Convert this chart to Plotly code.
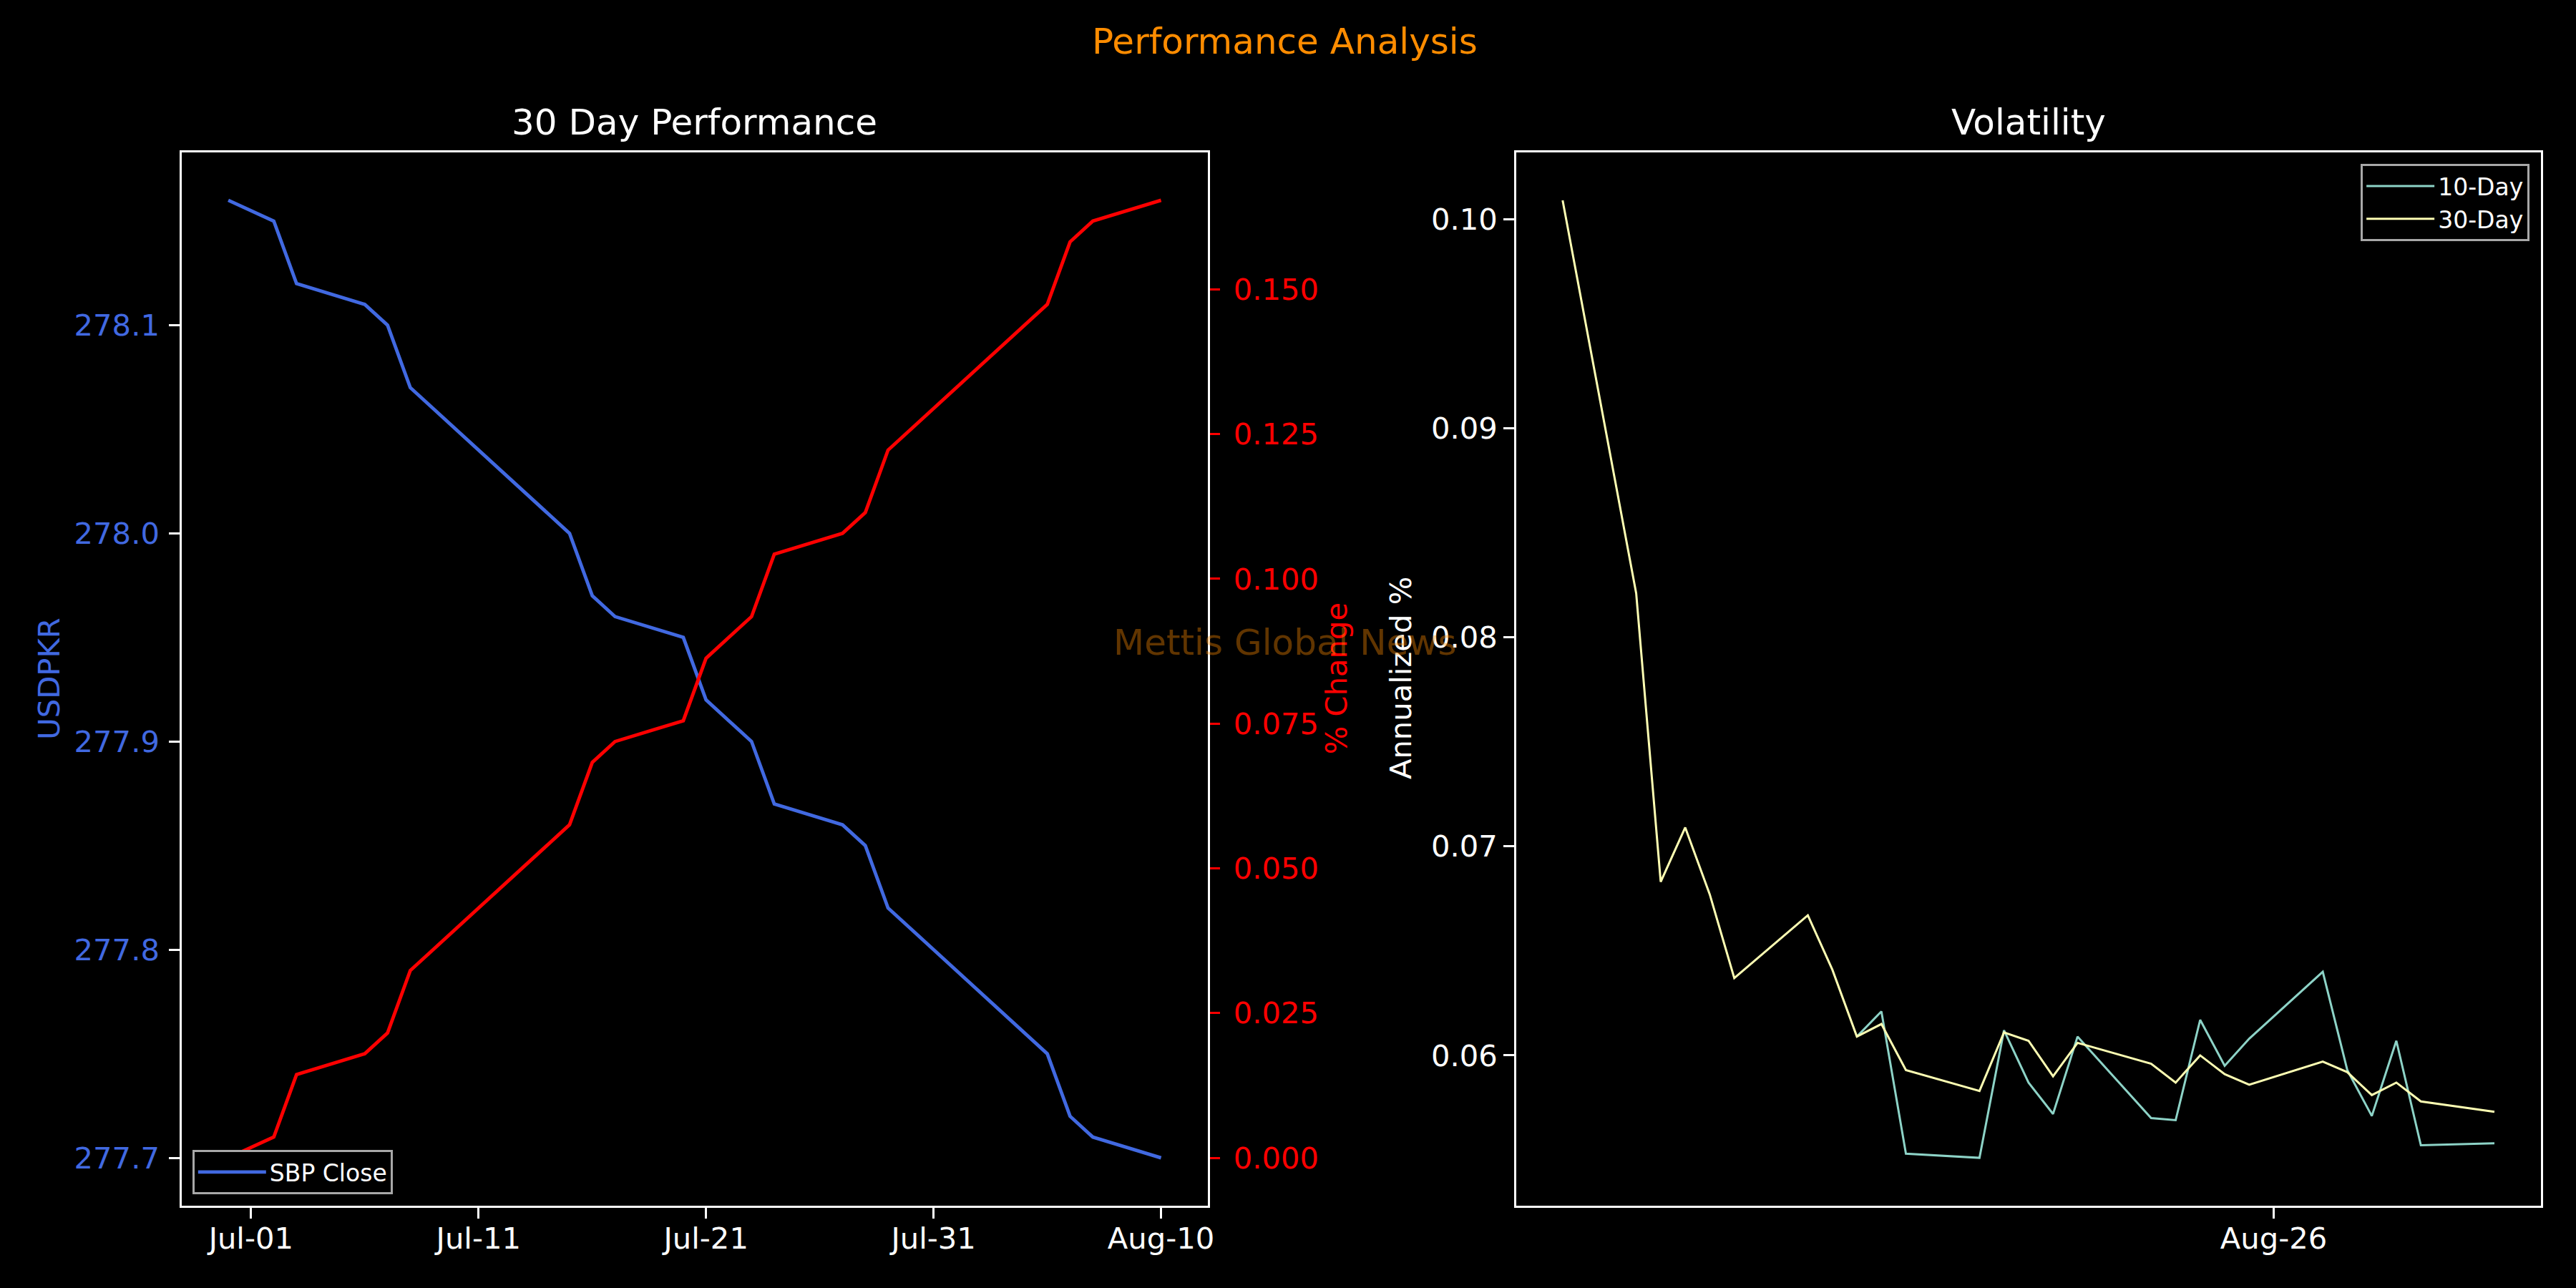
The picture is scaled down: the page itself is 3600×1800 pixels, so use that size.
import pandas as pd
import plotly.graph_objects as go

# SBP closing rate (USD/PKR), last 30 days
close_dates = ["2026-06-30", "2026-07-02", "2026-07-03", "2026-07-06", "2026-07-07",
               "2026-07-08", "2026-07-09", "2026-07-10", "2026-07-13", "2026-07-14",
               "2026-07-15", "2026-07-16", "2026-07-17", "2026-07-20", "2026-07-21",
               "2026-07-22", "2026-07-23", "2026-07-24", "2026-07-27", "2026-07-28",
               "2026-07-29", "2026-07-30", "2026-07-31", "2026-08-03", "2026-08-04",
               "2026-08-05", "2026-08-06", "2026-08-07", "2026-08-10"]
sbp_close = [278.16, 278.15, 278.12, 278.11, 278.10, 278.07, 278.06, 278.05, 278.02, 278.01,
             278.00, 277.97, 277.96, 277.95, 277.92, 277.91, 277.90, 277.87, 277.86, 277.85,
             277.82, 277.81, 277.80, 277.77, 277.76, 277.75, 277.72, 277.71, 277.70]

# rolling annualized volatility
vol_dates = ["2023-07-28", "2023-07-31", "2023-08-01", "2023-08-02", "2023-08-03",
             "2023-08-04", "2023-08-07", "2023-08-08", "2023-08-09", "2023-08-10",
             "2023-08-11", "2023-08-14", "2023-08-15", "2023-08-16", "2023-08-17",
             "2023-08-18", "2023-08-21", "2023-08-22", "2023-08-23", "2023-08-24",
             "2023-08-25", "2023-08-28", "2023-08-29", "2023-08-30", "2023-08-31",
             "2023-09-01", "2023-09-04"]
vol_10d = [None, None, None, None, None, None, None, None,
           0.0609, 0.0621, 0.0553, 0.0551, 0.0612, 0.0587, 0.0572, 0.0609, 0.0570,
           0.0569, 0.0617, 0.0595, 0.0608, 0.0640, 0.0593, 0.0571, 0.0607, 0.0557, 0.0558]
vol_30d = [0.1009, 0.0821, 0.0683, 0.0709, 0.0677, 0.0637, 0.0667, 0.0641, 0.0609,
           0.0615, 0.0593, 0.0583, 0.0611, 0.0607, 0.0590, 0.0606, 0.0596, 0.0587,
           0.0600, 0.0591, 0.0586, 0.0597, 0.0592, 0.0581, 0.0587, 0.0578, 0.0573]

perf_ticks = ["2026-07-01", "2026-07-11", "2026-07-21", "2026-07-31", "2026-08-10"]
vol_ticks = ["2023-08-26"]

W, H = 3600, 1800
FONT = "DejaVu Sans"
BLUE = "#4169E1"

close = pd.Series(sbp_close, index=pd.to_datetime(close_dates))
pct_change = (close.iloc[0] - close) / close.iloc[0] * 100
vdates = pd.to_datetime(vol_dates)
v10 = pd.Series(vol_10d, dtype=float)
v30 = pd.Series(vol_30d, dtype=float)


def pad(lo, hi, frac=0.05):
    # matplotlib style 5% data margins
    d = (hi - lo) * frac
    return [lo - d, hi + d]


def fx(p):
    return p / W


def fy(p):
    return 1 - p / H


fig = go.Figure()
fig.add_trace(go.Scatter(x=close.index, y=close.values, mode="lines", name="SBP Close",
                         line=dict(color=BLUE, width=4.8), xaxis="x", yaxis="y",
                         legend="legend"))
fig.add_trace(go.Scatter(x=close.index, y=pct_change.values, mode="lines", name="% Change",
                         line=dict(color="red", width=4.8), xaxis="x", yaxis="y2",
                         showlegend=False))
fig.add_trace(go.Scatter(x=vdates, y=v10, mode="lines", name="10-Day",
                         line=dict(color="#8dd3c7", width=3), xaxis="x2", yaxis="y3",
                         legend="legend2"))
fig.add_trace(go.Scatter(x=vdates, y=v30, mode="lines", name="30-Day",
                         line=dict(color="#feffb3", width=3), xaxis="x2", yaxis="y3",
                         legend="legend2"))

axis_common = dict(showgrid=False, zeroline=False, showline=True, linecolor="white",
                   linewidth=3, ticks="outside", ticklen=14.6, tickwidth=3.3,
                   tickcolor="white", ticklabelstandoff=5,
                   tickfont=dict(family=FONT, size=41.7, color="white"))
ydom = [fy(1685), fy(213)]

fig.update_layout(
    width=W, height=H, autosize=False,
    margin=dict(l=0, r=0, t=0, b=0),
    paper_bgcolor="black", plot_bgcolor="black",
    font=dict(family=FONT, color="white"),
    xaxis=dict(axis_common, domain=[fx(254.5), fx(1692)], anchor="y", type="date",
               range=pad(close.index[0], close.index[-1]), tickvals=perf_ticks,
               tickformat="%b-%d", mirror=True, ticklabelstandoff=-8),
    yaxis=dict(axis_common, domain=ydom, anchor="x",
               range=pad(close.min(), close.max()), tick0=277.7, dtick=0.1,
               tickformat=".1f",
               tickfont=dict(family=FONT, size=41.7, color=BLUE)),
    yaxis2=dict(axis_common, overlaying="y", side="right", anchor="x",
                range=pad(pct_change.min(), pct_change.max()), tick0=0, dtick=0.025,
                tickformat=".3f", tickcolor="red", ticklabelstandoff=10,
                tickfont=dict(family=FONT, size=41.7, color="red")),
    xaxis2=dict(axis_common, domain=[fx(2124), fx(3560)], anchor="y3", type="date",
                range=pad(vdates[0], vdates[-1]), tickvals=vol_ticks,
                tickformat="%b-%d", mirror=True, ticklabelstandoff=-8),
    yaxis3=dict(axis_common, domain=ydom, anchor="x2",
                range=pad(min(v10.min(), v30.min()), max(v10.max(), v30.max())),
                tick0=0.06, dtick=0.01, tickformat=".2f", mirror=True,
                ticklabelstandoff=0),
    legend=dict(x=fx(269.5), y=fy(1669), xanchor="left", yanchor="bottom",
                bgcolor="black", bordercolor="#a8a8a8", borderwidth=3, itemwidth=95,
                font=dict(family=FONT, size=33, color="white")),
    legend2=dict(x=fx(3544), y=fy(229), xanchor="right", yanchor="top",
                 bgcolor="black", bordercolor="#a8a8a8", borderwidth=3, itemwidth=95,
                 font=dict(family=FONT, size=33, color="white")),
)

labels = [
    # text, x px, y px, size, colour, angle
    ("Performance Analysis", 1800, 58, 50, "#FF8C00", 0),
    ("30 Day Performance", 973, 171, 50, "white", 0),
    ("Volatility", 2842, 171, 50, "white", 0),
    ("USDPKR", 69, 948, 41.7, BLUE, -90),
    ("% Change", 1873, 948, 41.7, "red", -90),
    ("Annualized %", 1963, 948, 41.7, "white", -90),
    ("Mettis Global News", 1800, 898, 50, "rgba(255,140,0,0.38)", 0),
]
for text, x, y, size, color, angle in labels:
    fig.add_annotation(text=text, x=fx(x), y=fy(y), xref="paper", yref="paper",
                       xanchor="center", yanchor="middle", showarrow=False,
                       textangle=angle, font=dict(family=FONT, size=size, color=color))

# drop the default page margin so the figure sits at the window origin
fig.write_html("out.html", config={"displayModeBar": False},
               post_script="document.body.style.margin='0';"
                           "document.body.style.background='black';")
